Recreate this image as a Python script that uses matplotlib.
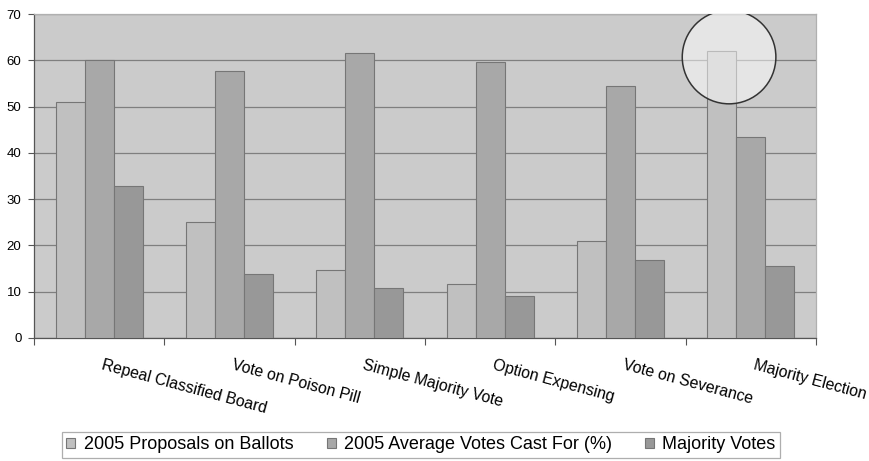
import numpy as np
import matplotlib
matplotlib.use("Agg")
import matplotlib.pyplot as plt
from matplotlib.patches import Ellipse
from matplotlib.transforms import ScaledTranslation

# Data
categories = ["Repeal Classified Board", "Vote on Poison Pill", "Simple Majority Vote",
              "Option Expensing", "Vote on Severance", "Majority Election"]
proposals = [51, 25, 14.7, 11.6, 21, 62]
avg_votes = [60, 57.6, 61.5, 59.7, 54.5, 43.5]
majority_votes = [32.9, 13.8, 10.7, 9.0, 16.9, 15.6]
series_names = ["2005 Proposals on Ballots", "2005 Average Votes Cast For (%)", "Majority Votes"]
series_colors = ["#c0c0c0", "#a8a8a8", "#989898"]
y_ticks = [0, 10, 20, 30, 40, 50, 60, 70]

plt.rcParams['font.family'] = ['Liberation Sans', 'DejaVu Sans']

fig = plt.figure(figsize=(8.69, 4.61), dpi=100)
ax = fig.add_axes([34 / 869, 1 - 338 / 461, 782 / 869, 324 / 461])
ax.set_facecolor("#cbcbcb")

x = np.arange(len(categories)) + 0.5
bw = 0.222
for i, (vals, name, col) in enumerate(zip([proposals, avg_votes, majority_votes], series_names, series_colors)):
    ax.bar(x + (i - 1) * bw, vals, bw, color=col, edgecolor="#767676", linewidth=0.8,
           label=name, zorder=3)

ax.set_xlim(0, len(categories))
ax.set_ylim(0, 70)
ax.set_yticks(y_ticks)
ax.yaxis.grid(True, color="#7f7f7f", linewidth=0.9, zorder=1)
ax.tick_params(axis='y', length=4, width=0.8, color="#555555", labelsize=9.5, pad=5)

# category labels at the centres, tick marks on the boundaries
ax.set_xticks(x)
ax.set_xticklabels(categories, rotation=-15, ha='left', va='top', rotation_mode='anchor', fontsize=11.4)
ax.set_xticks(np.arange(len(categories) + 1), minor=True)
ax.tick_params(axis='x', which='major', length=0, pad=14)
ax.tick_params(axis='x', which='minor', length=5, width=0.8, color="#555555")
for lab in ax.get_xticklabels():
    lab.set_transform(lab.get_transform() + ScaledTranslation(5 / 100, 0, fig.dpi_scale_trans))

for side in ["left", "bottom"]:
    ax.spines[side].set_color("#555555")
    ax.spines[side].set_linewidth(0.9)
for side in ["top", "right"]:
    ax.spines[side].set_color("#b0b0b0")
    ax.spines[side].set_linewidth(0.9)

# highlight circle round the Majority Election proposals bar
circ = Ellipse((x[5] - bw + 0.055, 60.7), 93.6 / 130.3, 93.6 / 4.63,
               facecolor=(1, 1, 1, 0.5), edgecolor="#333333", linewidth=1.1, zorder=4)
ax.add_patch(circ)

leg = fig.legend(loc='lower center', bbox_to_anchor=(421 / 869, 3 / 461), ncol=3, fontsize=13,
                 frameon=True, fancybox=False, handlelength=0.5, handleheight=0.5,
                 handletextpad=0.45, columnspacing=1.85, borderpad=0.25, borderaxespad=0)
leg.get_frame().set_edgecolor("#9a9a9a")
leg.get_frame().set_linewidth(0.9)

fig.savefig("out.png", dpi=100)
